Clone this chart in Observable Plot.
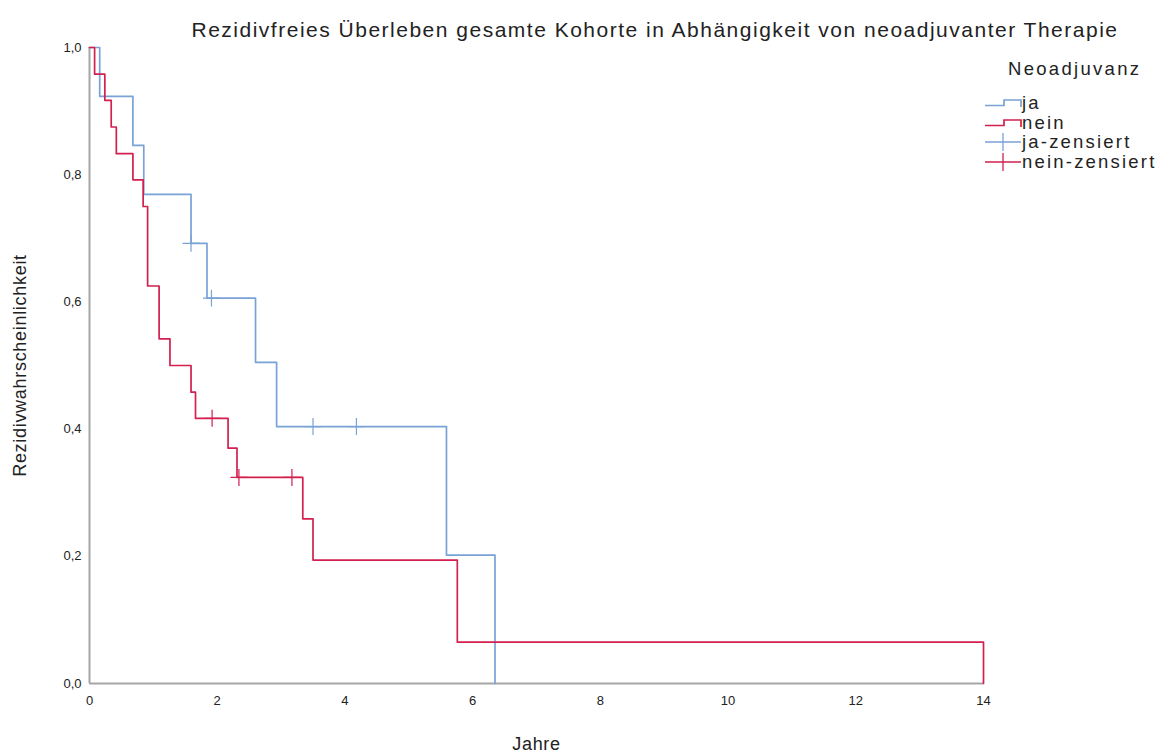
<!DOCTYPE html>
<html>
<head>
<meta charset="utf-8">
<script src="https://cdn.jsdelivr.net/npm/d3@7"></script>
<script src="https://cdn.jsdelivr.net/npm/@observablehq/plot@0.6"></script>
<style>
  body { margin: 0; background: #fff; }
  #wrap { position: relative; width: 1171px; height: 755px; font-family: "Liberation Sans", Arial, sans-serif; color: #222; }
  #title { position: absolute; left: 0; width: 1310px; top: 18px; text-align: center; font-size: 21px; letter-spacing: 1.5px; white-space: nowrap; }
  #legend { position: absolute; left: 984px; top: 58px; font-size: 18.5px; }
  #legend .head { margin-left: 24px; margin-bottom: 13px; letter-spacing: 2.3px; height: 22px; line-height: 22px; }
  #legend .item { display: flex; align-items: center; height: 19.5px; letter-spacing: 2.2px; }
  #legend .item span { display: block; line-height: 17px; height: 17px; white-space: nowrap; }
  #legend svg { width: 38px; height: 19px; flex: none; }
</style>
</head>
<body>
<div id="wrap">
  <div id="title"></div>
  <div id="chart"></div>
  <div id="legend"></div>
</div>
<script>
const titleText = "Rezidivfreies Überleben gesamte Kohorte in Abhängigkeit von neoadjuvanter Therapie";
const xLabel = "Jahre";
const yLabel = "Rezidivwahrscheinlichkeit";
const legendTitle = "Neoadjuvanz";
const groups = ["ja", "nein"];
const legendLabels = ["ja", "nein", "ja-zensiert", "nein-zensiert"];
const colors = ["#79a3d6", "#d2204f"];

// Kaplan-Meier steps
const jaTime = [0, 0.16, 0.68, 0.85, 1.59, 1.84, 2.60, 2.93, 5.59, 6.35];
const jaSurv = [1, 0.923, 0.846, 0.769, 0.692, 0.606, 0.505, 0.404, 0.202, 0];
const neinTime = [0, 0.08, 0.24, 0.34, 0.42, 0.68, 0.84, 0.91, 1.09, 1.26, 1.59, 1.66, 2.17, 2.31, 3.34, 3.50, 5.76, 14.0];
const neinSurv = [1, 0.958, 0.917, 0.875, 0.833, 0.792, 0.75, 0.625, 0.542, 0.5, 0.458, 0.417, 0.370, 0.324, 0.259, 0.194, 0.065, 0];

// censored observations
const jaCensTime = [1.59, 1.91, 3.50, 4.18];
const jaCensSurv = [0.692, 0.606, 0.404, 0.404];
const neinCensTime = [1.92, 2.34, 3.17];
const neinCensSurv = [0.417, 0.324, 0.324];

const xTicks = [0, 2, 4, 6, 8, 10, 12, 14];
const yTicks = [0, 0.2, 0.4, 0.6, 0.8, 1.0];

const steps = [
  ...jaTime.map((t, i) => ({g: "ja", t, s: jaSurv[i]})),
  ...neinTime.map((t, i) => ({g: "nein", t, s: neinSurv[i]}))
];
const cens = [
  ...jaCensTime.map((t, i) => ({g: "ja", t, s: jaCensSurv[i]})),
  ...neinCensTime.map((t, i) => ({g: "nein", t, s: neinCensSurv[i]}))
];

document.getElementById("title").textContent = titleText;

const fmt = d => d.toFixed(1).replace(".", ",");

const plot = Plot.plot({
  width: 1171,
  height: 755,
  marginLeft: 89,
  marginRight: 188,
  marginTop: 47,
  marginBottom: 72,
  style: { fontFamily: "'Liberation Sans', Arial, sans-serif", fontSize: "13px", color: "#222", background: "transparent" },
  x: { domain: [0, 14] },
  y: { domain: [0, 1] },
  color: { domain: groups, range: colors },
  marks: [
    Plot.axisX({ ticks: xTicks, tickSize: 0, tickPadding: 12, label: xLabel, labelAnchor: "center", labelArrow: "none", labelOffset: 66 }),
    Plot.axisY({ ticks: yTicks, tickSize: 0, tickPadding: 8, tickFormat: fmt, label: yLabel, labelAnchor: "center", labelArrow: "none", labelOffset: 76 }),
    Plot.ruleY([0], { stroke: "#a6a6a6", strokeWidth: 2 }),
    Plot.ruleX([0], { stroke: "#a6a6a6", strokeWidth: 2 }),
    Plot.line(steps, { x: "t", y: "s", z: "g", stroke: "g", curve: "step-after", strokeWidth: 1.7 }),
    Plot.dot(cens, { x: "t", y: "s", stroke: "g", symbol: "plus", r: 5.5, strokeWidth: 1.2 })
  ]
});
document.getElementById("chart").appendChild(plot);

// style axis labels
plot.querySelectorAll("[aria-label='x-axis label'] text, [aria-label='y-axis label'] text").forEach(t => {
  t.style.fontSize = "18px";
  t.style.letterSpacing = "0.7px";
});

// legend
const leg = document.getElementById("legend");
const head = document.createElement("div");
head.className = "head";
head.textContent = legendTitle;
leg.appendChild(head);
legendLabels.forEach((lab, i) => {
  const col = colors[i % 2];
  const item = document.createElement("div");
  item.className = "item";
  const icon = i < 2
    ? `<svg viewBox="0 0 38 19"><path d="M1,12.5H20V7H37V14" fill="none" stroke="${col}" stroke-width="1.7"/></svg>`
    : `<svg viewBox="0 0 38 19"><path d="M1,10H37M19,1V19" fill="none" stroke="${col}" stroke-width="1.3"/></svg>`;
  item.innerHTML = icon + `<span>${lab}</span>`;
  leg.appendChild(item);
});
</script>
</body>
</html>
